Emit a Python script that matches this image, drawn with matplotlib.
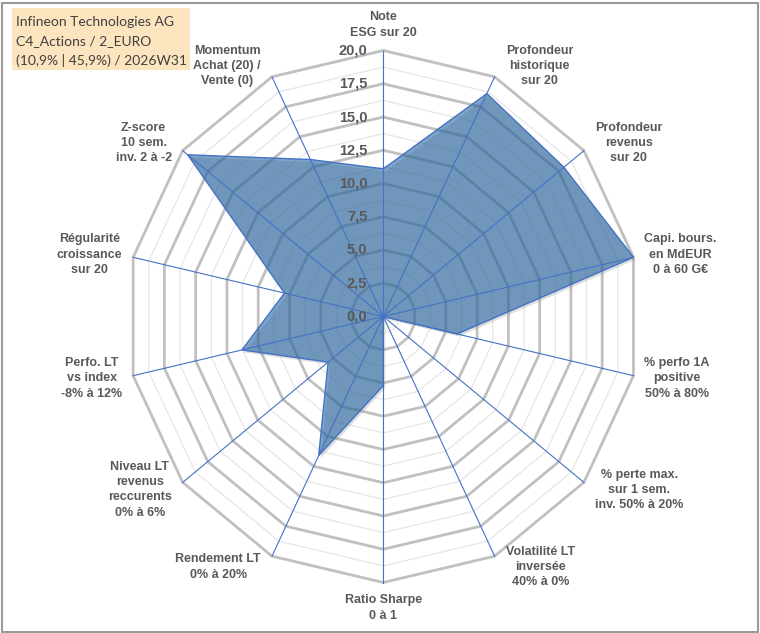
import numpy as np
import matplotlib
matplotlib.use("Agg")
import matplotlib.pyplot as plt
from matplotlib.patches import Rectangle, Polygon

# Axis labels (clockwise from top) and values (scale 0-20)
labels = [
    "Note\nESG sur 20",
    "Profondeur\nhistorique\nsur 20",
    "Profondeur\nrevenus\nsur 20",
    "Capi. bours.\nen MdEUR\n0 à 60 G€",
    "% perfo 1A\npositive\n50% à 80%",
    "% perte max.\nsur 1 sem.\ninv. 50% à 20%",
    "Volatilité LT\ninversée\n40% à 0%",
    "Ratio Sharpe\n0 à 1",
    "Rendement LT\n0% à 20%",
    "Niveau LT\nrevenus\nreccurents\n0% à 6%",
    "Perfo. LT\nvs index\n-8% à 12%",
    "Régularité\ncroissance\nsur 20",
    "Z-score\n10 sem.\ninv. 2 à -2",
    "Momentum\nAchat (20) /\nVente (0)",
]
values = [11.1, 18.6, 18.0, 20.0, 5.9, 0.0, 0.0, 5.2, 11.6, 5.5, 11.3, 7.9, 19.5, 13.1]
major_ticks = [0.0, 2.5, 5.0, 7.5, 10.0, 12.5, 15.0, 17.5, 20.0]
minor_ticks = [1.25, 3.75, 6.25, 8.75, 11.25, 13.75, 16.25, 18.75]
title_lines = ["Infineon Technologies AG", "C4_Actions / 2_EURO", "(10,9% | 45,9%) / 2026W31"]

RMAX = 20.0
W, H = 760, 633
CX, CY = 383.3, 316.5      # centre in pixels
SX, SY = 12.83, 13.3       # pixels per unit (picture is slightly squeezed horizontally)

n = len(labels)
theta = np.arange(n) * 2 * np.pi / n
ux, uy = np.sin(theta), np.cos(theta)

fig = plt.figure(figsize=(W / 100, H / 100), dpi=100)
ax = fig.add_axes([0, 0, 1, 1])
ax.set_xlim(-CX / SX, (W - CX) / SX)
ax.set_ylim(-(H - CY) / SY, CY / SY)
ax.axis("off")


def ring(r):
    xs = np.append(r * ux, r * ux[0])
    ys = np.append(r * uy, r * uy[0])
    return xs, ys


# grid polygons
for r in minor_ticks:
    xs, ys = ring(r)
    ax.plot(xs, ys, color="#E6E6E6", lw=0.9, zorder=1)
for r in major_ticks[1:]:
    xs, ys = ring(r)
    ax.plot(xs, ys, color="#C0C0C0", lw=2.0, zorder=1, solid_joinstyle="miter")

# data polygon with a soft shadow
pts = np.column_stack([np.array(values) * ux, np.array(values) * uy])
shadow = Polygon(pts + np.array([2.0 / SX, -2.5 / SY]), closed=True,
                 facecolor="#7f7f7f", edgecolor="none", alpha=0.25, zorder=2)
ax.add_patch(shadow)
ax.add_patch(Polygon(pts, closed=True, facecolor="#2263A2", alpha=0.58,
                     edgecolor="none", zorder=3))
ax.add_patch(Polygon(pts, closed=True, facecolor="none", edgecolor="#4472C4",
                     lw=1.0, zorder=4))

# spokes
for i in range(n):
    ax.plot([0, RMAX * ux[i]], [0, RMAX * uy[i]], color="#4472C4", lw=0.8, zorder=5)

# tick labels along the top axis
for t in major_ticks:
    ax.text(-16 / SX, t, f"{t:.1f}".replace(".", ","), ha="right", va="center",
            fontsize=10.5, fontweight="bold", color="#595959",
            family="Liberation Sans", zorder=6)

# axis labels
for i, lab in enumerate(labels):
    ex, ey = RMAX * ux[i], RMAX * uy[i]
    if abs(ux[i]) < 0.1:
        ha = "center"
        dx = 0
        va = "bottom" if uy[i] > 0 else "top"
        dy = 12 * np.sign(uy[i])
    else:
        ha = "left" if ux[i] > 0 else "right"
        dx = 11 * np.sign(ux[i])
        va = "center"
        dy = 12 * uy[i]
    ax.text(ex + dx / SX, ey + dy / SY, lab, ha=ha, va=va, ma="center",
            fontsize=9, fontweight="bold", color="#595959",
            family="Liberation Sans", linespacing=1.35, zorder=6)

# title box
fig.patches.append(Rectangle((12 / W, 1 - 70 / H), 178 / W, 62 / H,
                             transform=fig.transFigure, facecolor="#FCE4BF",
                             edgecolor="none", zorder=0))
for k, line in enumerate(title_lines):
    fig.text(16 / W, 1 - (21.5 + 19.3 * k) / H, line, ha="left", va="center",
             fontsize=10, color="#404040", family="Lato")

# outer frame
fig.patches.append(Rectangle((1.5 / W, 1.5 / H), (W - 4) / W, (H - 4) / H,
                             transform=fig.transFigure, facecolor="none",
                             edgecolor="#9A9A9A", lw=1.5))

fig.savefig("out.png", dpi=100)
